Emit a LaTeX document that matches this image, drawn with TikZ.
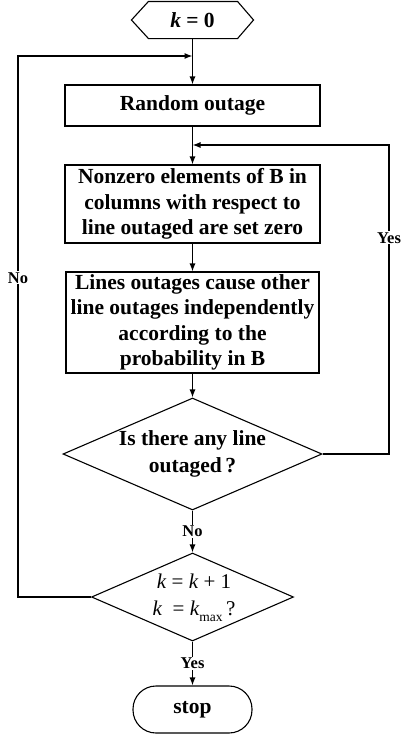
\documentclass[tikz,border=0pt]{standalone}
\usepackage{fontspec}
\setmainfont{Liberation Serif}
\usetikzlibrary{shapes.geometric,arrows.meta}
\begin{document}
\begin{tikzpicture}[x=1pt,y=-1pt,
  line width=1.1pt,
  every node/.style={font=\fontsize{21.5}{25.5}\selectfont\bfseries},
  box/.style={draw, minimum width=255pt, inner sep=0pt, align=center},
  dia/.style={draw, diamond, inner sep=0pt},
  arr/.style={-{Latex[length=8pt,width=6pt]}},
  lbl/.style={fill=white, font=\fontsize{16.5}{18}\selectfont\bfseries, inner sep=1pt},
]
\useasboundingbox (0,0) rectangle (401,736);
% start hexagon
\node[minimum width=121pt, minimum height=36pt, inner sep=0pt] (start) at (192.5,20) {\textit{k} = 0};
\draw (start.west) -- ([xshift=17pt]start.north west) -- ([xshift=-16pt]start.north east) -- (start.east) -- ([xshift=-16pt]start.south east) -- ([xshift=17pt]start.south west) -- cycle;
% boxes
\node[box, minimum height=41pt] (rand) at (192.5,105.5) {Random outage};
\node[box, minimum height=78pt] (nz) at (192.5,204) {Nonzero elements of B in\\columns with respect to\\line outaged are set zero};
\node[box, minimum width=253pt, minimum height=101pt] (lo) at (192.5,322.5) {Lines outages cause other\\line outages independently\\according to the\\probability in B};
% decisions
\node[dia, minimum width=259pt, minimum height=112pt] (d1) at (192.5,454) {};
\node[align=center] (d1t) at (192.5,454) {Is there any line\\[2pt]outaged\,?};
\node[dia, minimum width=202pt, minimum height=88pt] (d2) at (192.5,597) {};
\node[align=center, font=\fontsize{21}{27}\selectfont\mdseries] (d2t) at (194,598) {\textit{k} = \textit{k} + 1\\\textit{k} \ = \textit{k}\raisebox{-6pt}{\fontsize{13.5}{14}\selectfont max}\,?};
% stop
\node[draw, rounded corners=23pt, minimum width=119pt, minimum height=47pt] (stop) at (192.5,709.5) {stop};
% helper coordinates
\coordinate (j1) at (192.5,56);
\coordinate (nl) at (18,597);
\coordinate (nt) at (18,56);
\coordinate (j2) at (192.5,145);
\coordinate (yr) at (389,454);
\coordinate (yt) at (389,145);
% connectors
\draw[arr] (start.south) -- (rand.north);
\draw[arr] (rand.south) -- (nz.north);
\draw[arr] (nz.south) -- (lo.north);
\draw[arr] (lo.south) -- (d1.north);
\draw[arr] (d1.south) -- node[lbl] (no1) {No} (d2.north);
\draw[arr] (d2.south) -- node[lbl] (yes1) {Yes} (stop.north);
\draw[arr] (d2.west) -- (nl) -- node[lbl, pos=0.59] (no2) {No} (nt) -- (j1);
\draw[arr] (d1.east) -- (yr) -- node[lbl, pos=0.70] (yes2) {Yes} (yt) -- (j2);
\end{tikzpicture}
\end{document}
